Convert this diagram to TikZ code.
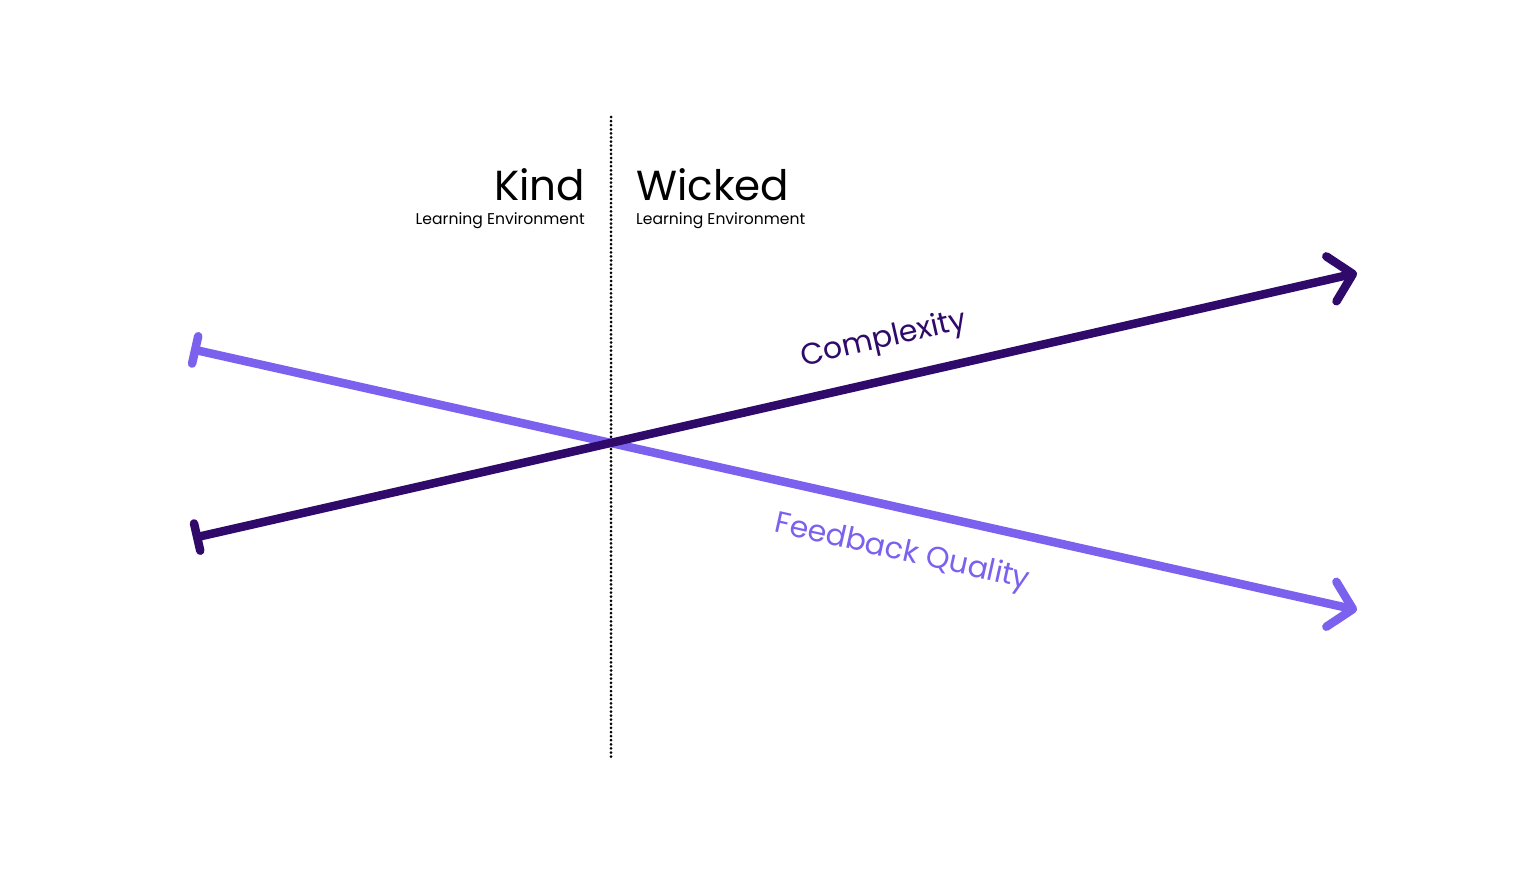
\documentclass[tikz,border=0pt]{standalone}
\usepackage{fontspec}
\setmainfont{Poppins}
\usetikzlibrary{arrows.meta}
\definecolor{darkp}{HTML}{2F0A6B}
\definecolor{lightp}{HTML}{7B61EE}
\tikzset{
  axisline/.style={line width=8.5pt, line cap=round,
    arrows={{Bar[width=28pt,line cap=round]}-{Straight Barb[length=22pt,width=46pt,line cap=round,line join=round]}}},
  bigtitle/.style={font=\fontsize{42}{46}\selectfont, inner sep=0pt},
  subtitle/.style={font=\fontsize{15.6}{17}\selectfont, inner sep=0pt},
  axlabel/.style={font=\fontsize{30}{33}\selectfont, inner sep=0pt}
}
\begin{document}
\begin{tikzpicture}[x=1pt,y=-1pt]
\useasboundingbox (0,0) rectangle (1529,878);
\fill[white] (0,0) rectangle (1529,878);
% divider
\coordinate (dtop) at (611,117);
\coordinate (dbot) at (611,760);
\draw[line width=3pt, line cap=round, dash pattern=on 0pt off 4.1pt] (dtop) -- (dbot);
% axes
\coordinate (cL) at (193,538);
\coordinate (cR) at (1357,273);
\coordinate (fL) at (191,349);
\coordinate (fR) at (1357,610);
\draw[axisline, lightp] (fL) -- (fR);
\draw[axisline, darkp] (cL) -- (cR);
% titles
\node[bigtitle, anchor=base east] (kind) at (585,200) {Kind};
\node[subtitle, anchor=base east] (kindsub) at (585,224) {Learning Environment};
\node[bigtitle, anchor=base west] (wicked) at (636,200) {Wicked};
\node[subtitle, anchor=base west] (wickedsub) at (636,224) {Learning Environment};
% axis labels
\node[axlabel, darkp, rotate=12.8] (cx) at (884,340) {Complexity};
\node[axlabel, lightp, rotate=-12.6] (fq) at (902,553) {Feedback Quality};
\end{tikzpicture}
\end{document}
